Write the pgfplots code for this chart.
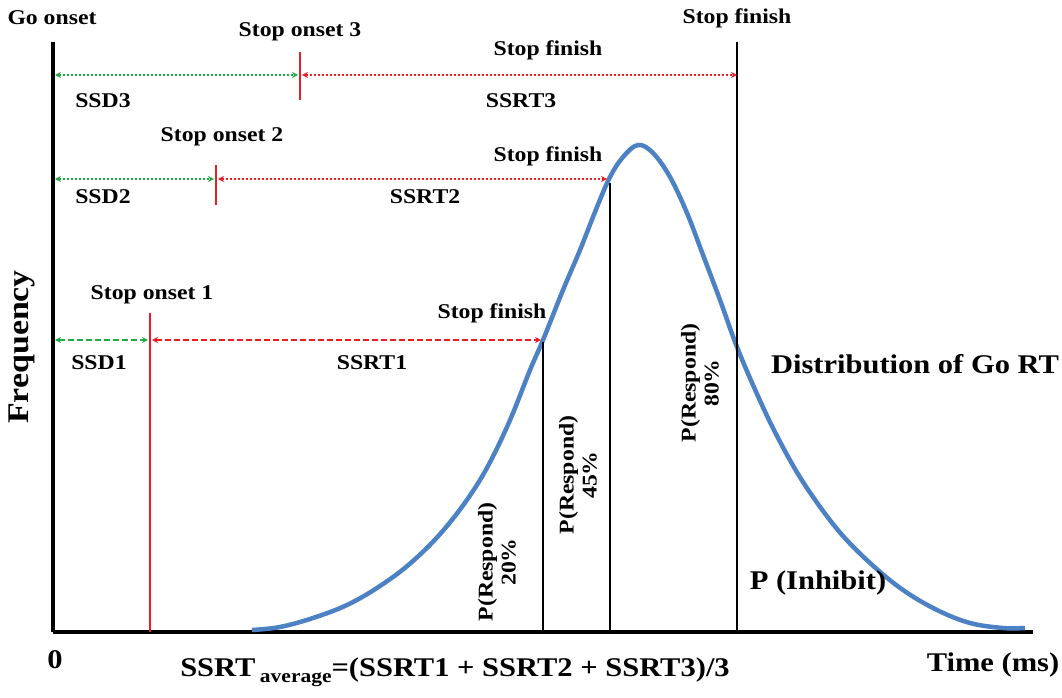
\documentclass[border=0pt]{standalone}
\usepackage{pgfplots}
\pgfplotsset{compat=1.18}
\usepackage{fontspec}
\setmainfont{Liberation Serif}[FakeStretch=1.13]
\usetikzlibrary{arrows.meta}
\definecolor{curveblue}{RGB}{76,130,196}
\definecolor{ssdgreen}{RGB}{34,170,70}
\definecolor{ssrtred}{RGB}{236,28,36}
\tikzset{
  lbl/.style={font=\bfseries\fontsize{21}{23}\selectfont, inner sep=0pt},
  big/.style={font=\bfseries\fontsize{27}{29}\selectfont, inner sep=0pt},
  arr/.style={line width=2pt, {Stealth[length=6pt,width=6pt]}-{Stealth[length=6pt,width=6pt]}},
  mydots/.style={dash pattern=on 2pt off 2pt},
  mydash/.style={dash pattern=on 6pt off 3pt},
}
\begin{document}
\begin{tikzpicture}
\begin{axis}[
  x=1pt, y=1pt,
  xmin=0, xmax=980, ymin=0, ymax=590,
  axis x line=bottom, axis y line=left,
  axis line style={line width=4.5pt, -},
  ticks=none, clip=false,
]
\coordinate (bl) at (axis cs:-53,-65);
\coordinate (tr) at (axis cs:1009,632);
% Go RT distribution
\addplot[curveblue, line width=4.5pt, smooth, tension=0.6] coordinates {
(199,2) (227,5) (260,14) (294,27) (327,46) (360,71) (394,106) (427,152) (454,205)
(477,262) (490,292) (510,342) (527,382) (544,425) (557,455) (570,475) (585,487)
(600,479) (617,455) (634,419) (650,377) (667,332) (684,285) (704,238) (724,196)
(750,150) (784,103) (817,69) (850,42) (884,22) (917,9) (950,4) (972,4)};
% stop finish lines
\addplot[black, line width=1.5pt] coordinates {(490,0) (490,290)};
\addplot[black, line width=1.5pt] coordinates {(557,0) (557,449)};
\addplot[black, line width=1.5pt] coordinates {(684,0) (684,590)};
% stop onset lines
\addplot[ssrtred, line width=2pt] coordinates {(97,0) (97,319)};
\addplot[ssrtred, line width=2pt] coordinates {(163,427) (163,467)};
\addplot[ssrtred, line width=2pt] coordinates {(247,532) (247,580)};
% SSD / SSRT arrows
\addplot[ssdgreen, arr, mydots] coordinates {(2,557) (245,557)};
\addplot[ssrtred, arr, mydots] coordinates {(249,557) (684,557)};
\addplot[ssdgreen, arr, mydots] coordinates {(2,453) (161,453)};
\addplot[ssrtred, arr, mydots] coordinates {(165,453) (554,453)};
\addplot[ssdgreen, arr, mydash] coordinates {(2,292) (95,292)};
\addplot[ssrtred, arr, mydash] coordinates {(99,292) (488,292)};
% labels
\node[lbl] at (axis cs:-1,614) {Go onset};
\node[lbl] at (axis cs:247,600) {Stop onset 3};
\node[lbl] at (axis cs:495,582) {Stop finish};
\node[lbl] at (axis cs:684,614) {Stop finish};
\node[lbl] at (axis cs:50,531) {SSD3};
\node[lbl] at (axis cs:468,531) {SSRT3};
\node[lbl] at (axis cs:169,495) {Stop onset 2};
\node[lbl] at (axis cs:495,476) {Stop finish};
\node[lbl] at (axis cs:50,435) {SSD2};
\node[lbl] at (axis cs:372,435) {SSRT2};
\node[lbl] at (axis cs:99,337) {Stop onset 1};
\node[lbl] at (axis cs:439,319) {Stop finish};
\node[lbl] at (axis cs:46,269) {SSD1};
\node[lbl] at (axis cs:319,269) {SSRT1};
\node[big] at (axis cs:862,268) {Distribution of Go RT};
\node[lbl, rotate=90, align=center] at (axis cs:444,70) {P(Respond)\\20\%};
\node[lbl, rotate=90, align=center] at (axis cs:525,157) {P(Respond)\\45\%};
\node[lbl, rotate=90, align=center] at (axis cs:647,249) {P(Respond)\\80\%};
\node[big] at (axis cs:765,49) {P (Inhibit)};
\node[rotate=90, font=\bfseries\fontsize{30}{32}\selectfont, inner sep=0pt] at (axis cs:-31,285) {Frequency};
\node[big] at (axis cs:2,-28) {0};
\node[big] at (axis cs:940,-33) {Time (ms)};
\node[big] at (axis cs:402,-40) {SSRT\,\raisebox{-0.45ex}{\fontsize{19}{21}\selectfont average}=(SSRT1 + SSRT2 + SSRT3)/3};
\end{axis}
\pgfresetboundingbox
\path (bl) rectangle (tr);
\end{tikzpicture}
\end{document}
